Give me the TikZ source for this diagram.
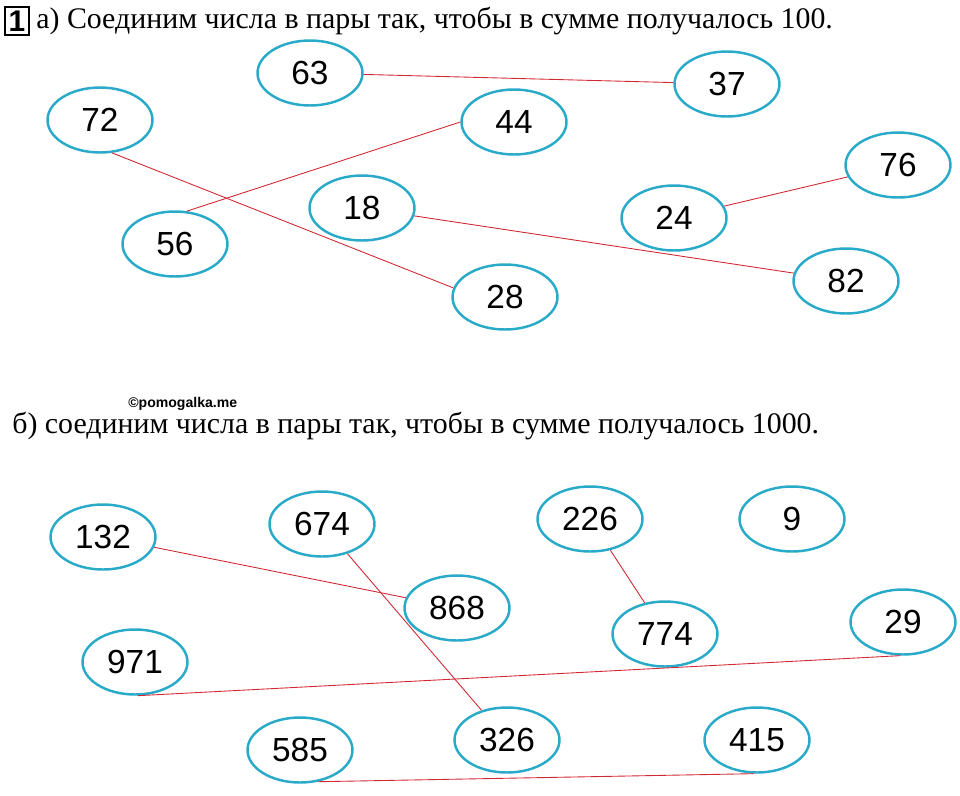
\documentclass[tikz,border=0pt]{standalone}
\usepackage{fontspec}
\setmainfont{Liberation Serif}
\newfontfamily\numfont{Liberation Sans}
\usetikzlibrary{shapes.geometric}
\definecolor{ovalblue}{RGB}{40,170,200}
\definecolor{pairred}{RGB}{210,40,50}
\begin{document}
\begin{tikzpicture}[x=0.02cm, y=-0.02cm,
  num/.style={draw=ovalblue, line width=1.4pt, ellipse, minimum width=2.1cm, minimum height=1.3cm, font=\numfont\fontsize{19}{22}\selectfont},
  pair/.style={draw=pairred, line width=0.5pt}]
\useasboundingbox (0,0) rectangle (960,795);
% heading a
\node[draw, line width=1.2pt, inner sep=2pt, minimum size=0.45cm, font=\numfont\bfseries\fontsize{17}{19}\selectfont] (box) at (17,21) {1};
\node[anchor=west, font=\fontsize{17}{20}\selectfont, inner sep=0pt] (ta) at (36,21) {а) Соединим числа в пары так, чтобы в сумме получалось 100.};
% numbers a
\node[num] (n63) at (310,73) {63};
\node[num] (n37) at (727,84) {37};
\node[num] (n72) at (100,120) {72};
\node[num] (n44) at (514,122) {44};
\node[num] (n76) at (898,165) {76};
\node[num] (n18) at (362,208) {18};
\node[num] (n24) at (674,218) {24};
\node[num] (n56) at (175,244) {56};
\node[num] (n28) at (505,297) {28};
\node[num] (n82) at (846,281) {82};
\draw[pair] (n63) -- (n37);
\draw[pair] (n72.-70) -- (n28.170);
\draw[pair] (n56.70) -- (n44.180);
\draw[pair] (n18) -- (n82);
\draw[pair] (n24) -- (n76);
% heading b
\node[anchor=west, font=\numfont\bfseries\fontsize{8}{9}\selectfont, inner sep=0pt] (mark) at (128,404) {©pomogalka.me};
\node[anchor=west, font=\fontsize{17}{20}\selectfont, inner sep=0pt] (tb) at (12,426) {б) соединим числа в пары так, чтобы в сумме получалось 1000.};
% numbers b
\node[num] (n132) at (103,537) {132};
\node[num] (n674) at (322,524) {674};
\node[num] (n226) at (590,519) {226};
\node[num] (n9) at (792,519) {9};
\node[num] (n868) at (457,608) {868};
\node[num] (n774) at (665,634) {774};
\node[num] (n29) at (903,622) {29};
\node[num] (n971) at (135,662) {971};
\node[num] (n585) at (300,750) {585};
\node[num] (n326) at (507,740) {326};
\node[num] (n415) at (757,740) {415};
\draw[pair] (n132) -- (n868);
\draw[pair] (n674) -- (n326);
\draw[pair] (n226) -- (n774);
\draw[pair] (n971.-85) -- (n29.-95);
\draw[pair] (n585.-60) -- (n415.-95);
\end{tikzpicture}
\end{document}
